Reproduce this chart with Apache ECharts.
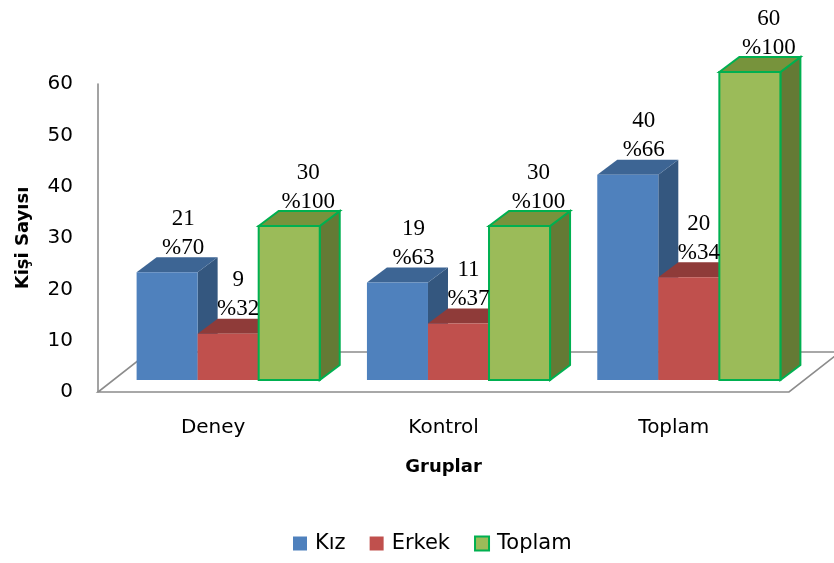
<!DOCTYPE html>
<html>
<head>
<meta charset="utf-8">
<script src="https://cdn.jsdelivr.net/npm/echarts@6/dist/echarts.min.js"></script>
<style>
  html, body { margin: 0; padding: 0; background: #fff; }
  #chart { width: 834px; height: 563px; }
</style>
</head>
<body>
<div id="chart"></div>
<script>
// Groups and counts per gender, with the share of each group
const groups = ['Deney', 'Kontrol', 'Toplam'];
const kizCounts = [21, 19, 40];
const erkekCounts = [9, 11, 20];
const toplamCounts = [30, 30, 60];
const kizPct = [70, 63, 66];
const erkekPct = [32, 37, 34];
const toplamPct = [100, 100, 100];
const yTicks = [0, 10, 20, 30, 40, 50, 60];

// Pseudo-3D geometry (pixels)
const FLOOR_DX = 51, FLOOR_DY = -40;   // floor depth
const BASE_DX = 15, BASE_DY = -12;     // bars stand mid-way on the floor
const DEPTH_DX = 20, DEPTH_DY = -15;   // bar depth
const BAR_FRAC = 0.265;                // bar width as share of band

const palette = [
  { front: '#4F81BD', top: '#3D6594', side: '#34577F', stroke: null, labelDx: 16 },
  { front: '#C0504D', top: '#8F3B39', side: '#7E3432', stroke: null, labelDx: 10 },
  { front: '#9BBB59', top: '#77933C', side: '#647A35', stroke: '#00B050', labelDx: 19 }
];

function makeBarRenderer(slot, pcts) {
  return function (params, api) {
    const cat = api.value(0);
    const val = api.value(1);
    const bandW = api.size([1, 0])[0];
    const barW = bandW * BAR_FRAC;
    const base = api.coord([cat, 0]);
    const top = api.coord([cat, val]);
    const groupLeft = base[0] + BASE_DX - 1.5 * barW;
    const x0 = groupLeft + slot * barW;
    const x1 = x0 + barW;
    const yb = base[1] + BASE_DY;
    const yt = top[1] + BASE_DY;
    const c = palette[slot];
    const lw = c.stroke ? 2 : 0;
    const stroke = c.stroke || 'transparent';
    const children = [
      { type: 'polygon', shape: { points: [[x1, yt], [x1 + DEPTH_DX, yt + DEPTH_DY], [x1 + DEPTH_DX, yb + DEPTH_DY], [x1, yb]] },
        style: { fill: c.side, stroke: stroke, lineWidth: lw } },
      { type: 'polygon', shape: { points: [[x0, yt], [x0 + DEPTH_DX, yt + DEPTH_DY], [x1 + DEPTH_DX, yt + DEPTH_DY], [x1, yt]] },
        style: { fill: c.top, stroke: stroke, lineWidth: lw } },
      { type: 'rect', shape: { x: x0, y: yt, width: barW, height: yb - yt },
        style: { fill: c.front, stroke: stroke, lineWidth: lw } },
      { type: 'text', z2: 10,
        style: {
          text: val + '\n%' + pcts[params.dataIndex],
          x: (x0 + x1) / 2 + c.labelDx, y: yt + DEPTH_DY + 5,
          align: 'center', verticalAlign: 'bottom',
          font: '23px "Liberation Serif", "Times New Roman", serif',
          lineHeight: 29, fill: '#000'
        } }
    ];
    return { type: 'group', children: children };
  };
}

function floorRenderer(params, api) {
  const cs = params.coordSys;
  const xl = cs.x, xr = cs.x + cs.width, yb = cs.y + cs.height;
  return {
    type: 'polygon',
    shape: { points: [[xl, yb], [xr, yb], [xr + FLOOR_DX, yb + FLOOR_DY], [xl + FLOOR_DX, yb + FLOOR_DY]] },
    style: { fill: '#fff', stroke: '#8C8C8C', lineWidth: 1.6 }
  };
}

function seriesData(values) {
  return values.map((v, i) => [i, v]);
}

const axisFont = '"DejaVu Sans", "Open Sans", sans-serif';
const chart = echarts.init(document.getElementById('chart'), null, { renderer: 'canvas' });
chart.setOption({
  animation: false,
  backgroundColor: '#fff',
  grid: { left: 98, right: 45, top: 84, bottom: 171 },
  legend: {
    bottom: 4, left: 288,
    itemWidth: 14, itemHeight: 14, itemGap: 24,
    textStyle: { fontFamily: axisFont, fontSize: 21, color: '#000', padding: [0, 0, 0, 3] },
    data: [
      { name: 'Kız', icon: 'rect', itemStyle: { color: palette[0].front } },
      { name: 'Erkek', icon: 'rect', itemStyle: { color: palette[1].front } },
      { name: 'Toplam', icon: 'rect', itemStyle: { color: palette[2].front, borderColor: '#00B050', borderWidth: 2 } }
    ]
  },
  xAxis: {
    type: 'category',
    data: groups,
    name: 'Gruplar',
    nameLocation: 'middle',
    nameGap: 66,
    nameTextStyle: { fontFamily: axisFont, fontSize: 18, fontWeight: 'bold', color: '#000' },
    axisLine: { show: false },
    axisTick: { show: false },
    axisLabel: { margin: 26, fontFamily: axisFont, fontSize: 20, color: '#000' }
  },
  yAxis: {
    type: 'value',
    min: yTicks[0], max: yTicks[yTicks.length - 1], interval: 10,
    name: 'Kişi Sayısı',
    nameLocation: 'middle',
    nameGap: 66,
    nameTextStyle: { fontFamily: axisFont, fontSize: 18, fontWeight: 'bold', color: '#000' },
    axisLine: { show: true, lineStyle: { color: '#8C8C8C', width: 1.6 } },
    axisTick: { show: false },
    splitLine: { show: false },
    axisLabel: { margin: 25, fontFamily: axisFont, fontSize: 20, color: '#000' }
  },
  series: [
    { type: 'custom', name: 'floor', renderItem: floorRenderer, data: [[0, 0]], clip: false, silent: true, z: 1 },
    { type: 'custom', name: 'Kız', renderItem: makeBarRenderer(0, kizPct), data: seriesData(kizCounts),
      itemStyle: { color: palette[0].front }, encode: { x: 0, y: 1 }, z: 2 },
    { type: 'custom', name: 'Erkek', renderItem: makeBarRenderer(1, erkekPct), data: seriesData(erkekCounts),
      itemStyle: { color: palette[1].front }, encode: { x: 0, y: 1 }, z: 2 },
    { type: 'custom', name: 'Toplam', renderItem: makeBarRenderer(2, toplamPct), data: seriesData(toplamCounts),
      itemStyle: { color: palette[2].front, borderColor: '#00B050', borderWidth: 2 }, encode: { x: 0, y: 1 }, z: 2 }
  ]
});
</script>
</body>
</html>
